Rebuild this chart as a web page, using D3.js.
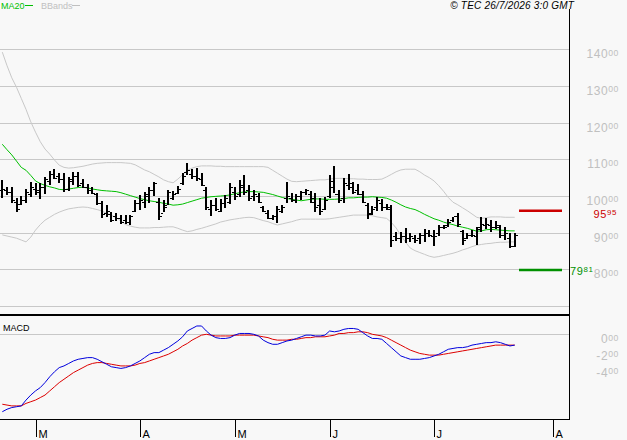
<!DOCTYPE html>
<html>
<head>
<meta charset="utf-8">
<script src="https://cdn.jsdelivr.net/npm/d3@7"></script>
<style>
  html, body { margin: 0; padding: 0; background: #f8f8f8; }
  svg { display: block; font-family: "Liberation Sans", Arial, sans-serif; }
</style>
</head>
<body>
<svg id="chart" width="627" height="440"></svg>
<script>
// daily bars, 19 Feb -> 24 Jul (values in price units, 100 = "100.00")
var highs = [104.4,102.5,102.4,99.4,100.0,101.8,103.8,103.5,103.6,105.3,
  106.8,107.3,106.2,106.3,105.3,106.5,106.5,104.5,103.2,102.5,
  100.7,98.7,97.5,95.7,95.3,94.8,94.8,94.8,98.9,100.3,
  101.2,102.5,103.9,99.4,98.9,101.6,101.4,102.7,106.3,108.9,
  107.3,107.5,106.2,102.4,98.9,99.4,99.2,100.3,103.6,102.5,
  104.4,105.7,103.0,101.6,100.7,97.3,96.2,94.8,97.3,97.5,
  103.9,100.7,100.5,101.4,101.8,101.4,100.7,99.4,99.8,105.7,
  108.2,101.6,104.8,106.0,103.9,103.3,101.4,98.0,97.3,99.8,
  99.1,97.8,97.5,90.3,90.3,91.2,89.8,89.4,89.8,90.9,
  90.7,90.7,92.1,92.1,93.6,94.4,95.3,90.7,89.8,90.7,
  91.6,94.2,93.9,93.5,93.3,92.1,91.6,89.8,90.0];
var lows = [99.5,100.3,98.0,95.6,97.5,98.2,99.8,100.3,99.2,100.5,
  103.0,104.5,103.6,101.2,101.4,103.0,102.5,102.1,100.5,100.5,
  97.5,93.9,94.2,93.0,93.3,92.4,92.3,92.1,95.7,96.2,
  96.6,98.2,100.0,93.5,95.7,97.5,98.9,100.5,103.0,105.7,
  104.5,104.1,102.7,96.2,94.5,96.0,95.7,96.6,97.8,98.9,
  99.8,100.3,98.6,98.7,98.0,95.7,93.6,93.5,92.6,95.3,
  98.0,98.4,98.2,98.9,100.3,98.0,95.7,94.8,96.2,99.4,
  100.7,98.2,98.0,101.6,100.5,100.3,98.0,93.6,94.8,96.0,
  95.9,96.2,86.0,87.7,87.1,87.1,87.5,87.1,86.9,87.5,
  88.9,86.4,89.1,90.9,91.5,93.0,91.6,86.6,88.2,88.7,
  86.6,90.3,90.9,90.3,90.9,88.5,88.0,85.7,86.2];
var opens = [101.5,101.5,101.0,98.5,97.8,98.8,100.5,102.0,101.5,102.5,
  104.0,106.0,105.5,104.5,102.0,104.0,105.5,103.5,102.5,101.5,
  100.5,98.0,95.5,95.0,94.5,94.0,93.5,93.0,96.0,98.0,
  98.5,100.0,101.5,98.5,95.5,97.5,99.5,100.8,103.5,106.5,
  106.0,105.5,104.5,101.5,96.5,97.5,96.0,98.0,98.5,101.0,
  100.5,102.5,101.5,100.0,100.0,97.0,95.5,94.0,94.5,96.0,
  99.5,99.5,99.0,100.0,101.0,100.5,98.5,97.5,96.5,100.0,
  102.5,100.5,99.5,103.0,102.5,101.5,100.5,97.5,95.5,97.0,
  98.0,97.0,96.5,89.0,88.5,89.0,88.5,88.5,88.5,89.5,
  90.0,89.0,90.0,91.5,92.0,93.5,94.5,90.5,88.5,89.5,
  89.0,91.5,92.0,92.0,91.5,91.5,89.5,88.5,86.5];
var closes = [102.0,101.0,99.0,96.5,99.0,101.0,102.5,101.0,102.5,104.5,
  106.0,105.0,104.5,102.0,104.5,105.5,103.0,102.5,101.5,100.8,
  98.0,95.0,96.0,93.5,94.0,93.0,93.0,94.5,98.0,99.0,
  100.5,101.5,103.5,94.5,97.0,101.0,100.5,102.0,105.5,107.0,
  105.5,105.0,103.0,97.0,97.5,96.5,98.0,99.5,102.5,100.0,
  103.0,101.0,99.5,100.5,98.5,96.0,94.0,94.5,96.5,97.0,
  100.0,99.0,100.0,101.0,101.5,99.5,97.0,96.0,99.0,104.0,
  100.5,99.0,103.5,103.5,101.0,100.5,98.5,95.0,96.5,99.0,
  97.0,97.0,88.0,88.5,89.0,88.5,89.0,88.0,89.5,90.0,
  89.5,89.0,91.5,91.5,93.0,94.5,92.5,88.0,89.5,89.5,
  91.0,92.5,92.5,91.5,92.0,89.5,90.0,86.5,89.5];

var ma20 = [114.1,112.6,111.2,109.5,107.8,107.0,105.6,104.1,103.4,102.9,
  102.5,102.2,101.8,101.7,101.9,102.1,102.3,102.4,102.2,101.9,
  101.7,101.5,101.4,101.3,101.2,100.9,100.5,100.1,99.7,99.3,
  99.0,98.7,98.5,98.3,98.0,97.8,97.5,97.6,97.8,98.2,
  98.6,99.0,99.4,99.6,99.8,99.9,100.0,100.1,100.3,100.6,
  100.9,101.1,101.2,101.2,101.1,101.0,100.7,100.4,100.0,99.6,
  99.3,99.1,98.9,98.7,98.9,99.1,99.2,99.2,99.1,99.1,
  99.1,99.2,99.3,99.5,99.5,99.6,99.7,99.7,99.8,99.7,
  99.6,99.4,98.9,98.3,97.6,97.0,96.6,96.3,95.7,95.0,
  94.4,93.8,93.4,92.9,92.5,92.2,91.8,91.5,91.2,90.8,
  90.4,90.5,90.8,90.9,90.8,90.7,90.6,90.5,90.5];
var bbUpper = [139.2,135.5,132.2,129.6,126.6,123.6,120.2,117.4,114.8,112.8,
  111.4,109.8,108.4,107.8,107.6,107.7,107.9,108.1,108.4,108.7,
  108.9,109.0,109.1,109.1,109.1,109.1,109.0,108.9,108.5,107.8,
  107.1,106.6,105.9,105.2,104.4,103.9,103.6,104.6,105.8,107.0,
  107.6,108.0,108.2,108.2,108.2,108.1,108.1,108.0,108.0,108.0,
  108.0,108.0,108.0,108.0,108.0,108.0,107.8,107.0,106.2,105.4,
  104.6,104.0,103.9,104.0,104.1,104.2,104.3,104.4,104.4,104.6,
  104.8,104.8,104.8,104.7,104.7,104.6,104.6,104.5,104.5,104.5,
  104.6,105.2,105.9,106.6,107.1,107.3,107.3,107.3,106.6,105.7,
  105.0,104.1,102.8,101.3,99.6,98.3,97.6,96.8,96.0,95.1,
  94.2,93.9,94.1,94.3,94.3,94.3,94.2,94.2,94.2];
var bbLower = [89.4,89.1,88.8,88.5,88.0,87.5,88.8,90.7,92.2,93.4,
  94.2,95.0,95.6,96.1,96.5,96.7,96.9,97.0,96.9,96.6,
  96.3,95.9,95.3,94.7,94.1,93.2,92.2,91.8,91.5,91.3,
  91.3,91.3,91.4,91.4,91.5,91.6,91.6,91.2,90.7,90.3,
  90.5,90.9,91.2,91.6,92.0,92.4,92.9,93.2,93.5,93.7,
  93.9,94.1,94.2,94.1,93.7,93.3,93.0,92.5,92.1,92.4,
  92.7,93.0,93.4,93.7,93.7,93.7,93.7,93.7,93.7,93.8,
  94.0,94.2,94.4,94.6,94.8,94.8,94.8,94.8,94.6,94.3,
  94.1,93.9,92.8,91.3,89.3,87.4,85.8,85.1,84.6,84.1,
  83.6,83.3,83.5,83.8,84.1,84.4,84.8,85.3,85.7,86.2,
  86.6,86.8,87.0,87.1,87.3,87.4,87.4,87.5,87.5];

var macd = [-9.3,-9.0,-8.8,-8.7,-8.6,-7.9,-7.3,-6.8,-6.4,-5.8,
  -5.1,-4.5,-4.0,-3.8,-3.5,-3.2,-3.0,-2.9,-2.8,-2.8,
  -3.0,-3.3,-3.6,-3.9,-4.0,-4.1,-4.0,-3.8,-3.5,-3.2,
  -2.8,-2.4,-2.2,-2.2,-1.9,-1.6,-1.2,-0.8,-0.3,0.4,
  0.7,1.0,1.0,0.4,-0.1,-0.4,-0.5,-0.5,-0.4,-0.1,
  0.1,0.1,0.1,0.0,-0.2,-0.7,-1.0,-1.2,-1.2,-1.0,
  -0.8,-0.7,-0.5,-0.3,-0.1,-0.1,-0.2,-0.2,-0.1,0.4,
  0.3,0.4,0.6,0.7,0.7,0.6,0.2,-0.2,-0.5,-0.5,
  -0.6,-1.1,-1.6,-2.1,-2.6,-2.8,-3.0,-3.0,-3.0,-2.9,
  -2.8,-2.6,-2.4,-2.1,-1.8,-1.7,-1.6,-1.6,-1.5,-1.3,
  -1.2,-1.1,-1.0,-1.0,-0.9,-1.0,-1.2,-1.4,-1.3];
var signal = [-8.4,-8.5,-8.6,-8.6,-8.6,-8.3,-8.1,-7.9,-7.6,-7.3,
  -6.8,-6.3,-5.8,-5.4,-5.0,-4.6,-4.3,-4.0,-3.7,-3.5,
  -3.4,-3.4,-3.5,-3.6,-3.7,-3.8,-3.8,-3.8,-3.7,-3.5,
  -3.4,-3.2,-3.0,-2.8,-2.6,-2.4,-2.1,-1.8,-1.4,-1.1,
  -0.7,-0.4,-0.1,0.0,-0.1,-0.2,-0.2,-0.2,-0.2,-0.1,
  -0.1,-0.1,-0.1,-0.1,-0.2,-0.3,-0.4,-0.6,-0.7,-0.7,
  -0.7,-0.6,-0.6,-0.5,-0.4,-0.4,-0.3,-0.3,-0.3,-0.2,
  -0.1,0.1,0.1,0.2,0.2,0.3,0.3,0.2,0.0,-0.1,
  -0.2,-0.4,-0.7,-1.0,-1.3,-1.6,-1.9,-2.1,-2.3,-2.4,
  -2.5,-2.5,-2.5,-2.4,-2.3,-2.2,-2.1,-2.0,-1.9,-1.8,
  -1.7,-1.6,-1.5,-1.4,-1.3,-1.3,-1.3,-1.3,-1.3];

// axes
var priceTicks = [70, 80, 90, 100, 110, 120, 130, 140];
var priceLabels = [80, 90, 100, 110, 120, 130, 140];
var macdTicks = [0];
var macdLabels = [0, -2, -4];
var monthLabels = ["M", "A", "M", "J", "J", "A"];
var monthStartIdx = [7, 29, 49, 69, 91, 116];

// levels
var resistance = 95.95;
var support = 79.81;

var svg = d3.select("#chart");
var W = 627, H = 440;
var plotRight = 569;
var gridColor = "#c8c8c8";

svg.append("rect").attr("width", W).attr("height", H).attr("fill", "#f8f8f8");

var x = d3.scaleLinear().domain([0, highs.length - 1]).range([2.3, 514.7]);
var y = d3.scaleLinear().domain([70, 140]).range([306.1, 49.2]);
var ym = d3.scaleLinear().domain([-4, 0]).range([367.6, 334.3]);

var px = function (v) { return Math.round(v) + 0.5; };

// grid lines
svg.append("g").selectAll("line").data(priceTicks).enter().append("line")
  .attr("x1", 0).attr("x2", plotRight)
  .attr("y1", function (d) { return px(y(d)); })
  .attr("y2", function (d) { return px(y(d)); })
  .attr("stroke", gridColor).attr("shape-rendering", "crispEdges");

svg.append("g").selectAll("line").data(macdTicks).enter().append("line")
  .attr("x1", 0).attr("x2", plotRight)
  .attr("y1", function (d) { return px(ym(d)); })
  .attr("y2", function (d) { return px(ym(d)); })
  .attr("stroke", gridColor).attr("shape-rendering", "crispEdges");

// sup formatted label, e.g. 140 + "00"
function supLabel(g, xp, yp, main, sup, color, anchor, size) {
  var t = g.append("text").attr("x", xp).attr("y", yp)
    .attr("fill", color).attr("text-anchor", anchor)
    .style("font-size", size + "px").style("letter-spacing", "0.6px");
  t.append("tspan").text(main);
  t.append("tspan").attr("dy", -2.6).style("font-size", (size * 0.72) + "px").text(sup);
}

var labG = svg.append("g");
priceLabels.forEach(function (v) {
  supLabel(labG, 619, y(v) + 9, String(v), "00", "#c0c0c0", "end", 12);
});
macdLabels.forEach(function (v) {
  supLabel(labG, 619, ym(v) + 9, String(v), "00", "#c0c0c0", "end", 12);
});

// bollinger bands and MA20
var line = function (sc) {
  return d3.line().x(function (d, i) { return x(i); }).y(function (d) { return sc(d); });
};
svg.append("path").datum(bbUpper).attr("d", line(y)).attr("fill", "none").attr("stroke", "#c8c8c8").attr("stroke-width", 1);
svg.append("path").datum(bbLower).attr("d", line(y)).attr("fill", "none").attr("stroke", "#c8c8c8").attr("stroke-width", 1);
svg.append("path").datum(ma20).attr("d", line(y)).attr("fill", "none").attr("stroke", "#00c000").attr("stroke-width", 1);

// OHLC bars
var bars = svg.append("g").attr("fill", "#000").attr("shape-rendering", "crispEdges");
highs.forEach(function (h, i) {
  var cx = Math.round(x(i));
  var top = Math.round(y(h)), bot = Math.round(y(lows[i]));
  bars.append("rect").attr("x", cx - 1).attr("y", top).attr("width", 2).attr("height", Math.max(1, bot - top));
  bars.append("rect").attr("x", cx - 3).attr("y", Math.round(y(opens[i]))).attr("width", 2).attr("height", 1);
  bars.append("rect").attr("x", cx + 1).attr("y", Math.round(y(closes[i]))).attr("width", 2).attr("height", 1);
});

// support / resistance
var lvG = svg.append("g");
lvG.append("line").attr("x1", 519).attr("x2", 562)
  .attr("y1", y(resistance)).attr("y2", y(resistance))
  .attr("stroke", "#cc0000").attr("stroke-width", 2.5);
lvG.append("line").attr("x1", 519).attr("x2", 562)
  .attr("y1", y(support)).attr("y2", y(support))
  .attr("stroke", "#009000").attr("stroke-width", 2.5);
var fmtLv = function (v) { return v.toFixed(2).split("."); };
supLabel(lvG, 617, y(resistance) + 7, fmtLv(resistance)[0], fmtLv(resistance)[1], "#cc0000", "end", 11);
supLabel(lvG, 570, y(support) + 4.5, fmtLv(support)[0], fmtLv(support)[1], "#009000", "start", 11);

// MACD panel
svg.append("path").datum(signal).attr("d", line(ym)).attr("fill", "none").attr("stroke", "#dd0000").attr("stroke-width", 1);
svg.append("path").datum(macd).attr("d", line(ym)).attr("fill", "none").attr("stroke", "#0000dd").attr("stroke-width", 1);

// frame
var frame = svg.append("g").attr("stroke", "#000").attr("shape-rendering", "crispEdges");
frame.append("line").attr("x1", plotRight + 0.5).attr("x2", plotRight + 0.5).attr("y1", 9).attr("y2", 420);
frame.append("line").attr("x1", 0).attr("x2", plotRight + 1).attr("y1", 315).attr("y2", 315).attr("stroke-width", 2);
frame.append("line").attr("x1", 0).attr("x2", plotRight + 1).attr("y1", 419.5).attr("y2", 419.5);

// month ticks
var mG = svg.append("g");
monthStartIdx.forEach(function (idx, k) {
  var mx = Math.round(x(idx)) + 0.5;
  mG.append("line").attr("x1", mx).attr("x2", mx).attr("y1", 419).attr("y2", 437)
    .attr("stroke", "#000").attr("shape-rendering", "crispEdges");
  mG.append("text").attr("x", mx + 2).attr("y", 437.5).style("font-size", "11px")
    .attr("fill", "#000").text(monthLabels[k]);
});

// header / legend
var hd = svg.append("g").style("font-size", "9px");
hd.append("text").attr("x", 1).attr("y", 8.5).attr("fill", "#00c000").text("MA20");
hd.append("line").attr("x1", 25).attr("x2", 33).attr("y1", 5.5).attr("y2", 5.5).attr("stroke", "#00c000");
hd.append("text").attr("x", 41).attr("y", 8.5).attr("fill", "#c0c0c0").text("BBands");
hd.append("line").attr("x1", 72).attr("x2", 80).attr("y1", 5.5).attr("y2", 5.5).attr("stroke", "#c0c0c0");
svg.append("text").attr("x", 574).attr("y", 9).attr("text-anchor", "end")
  .style("font-size", "10px").style("letter-spacing", "0.2px")
  .style("font-style", "italic").attr("fill", "#000")
  .text("\u00a9 TEC 26/7/2026 3:0 GMT");
svg.append("text").attr("x", 3).attr("y", 331).style("font-size", "9px").attr("fill", "#000").text("MACD");
</script>
</body>
</html>
